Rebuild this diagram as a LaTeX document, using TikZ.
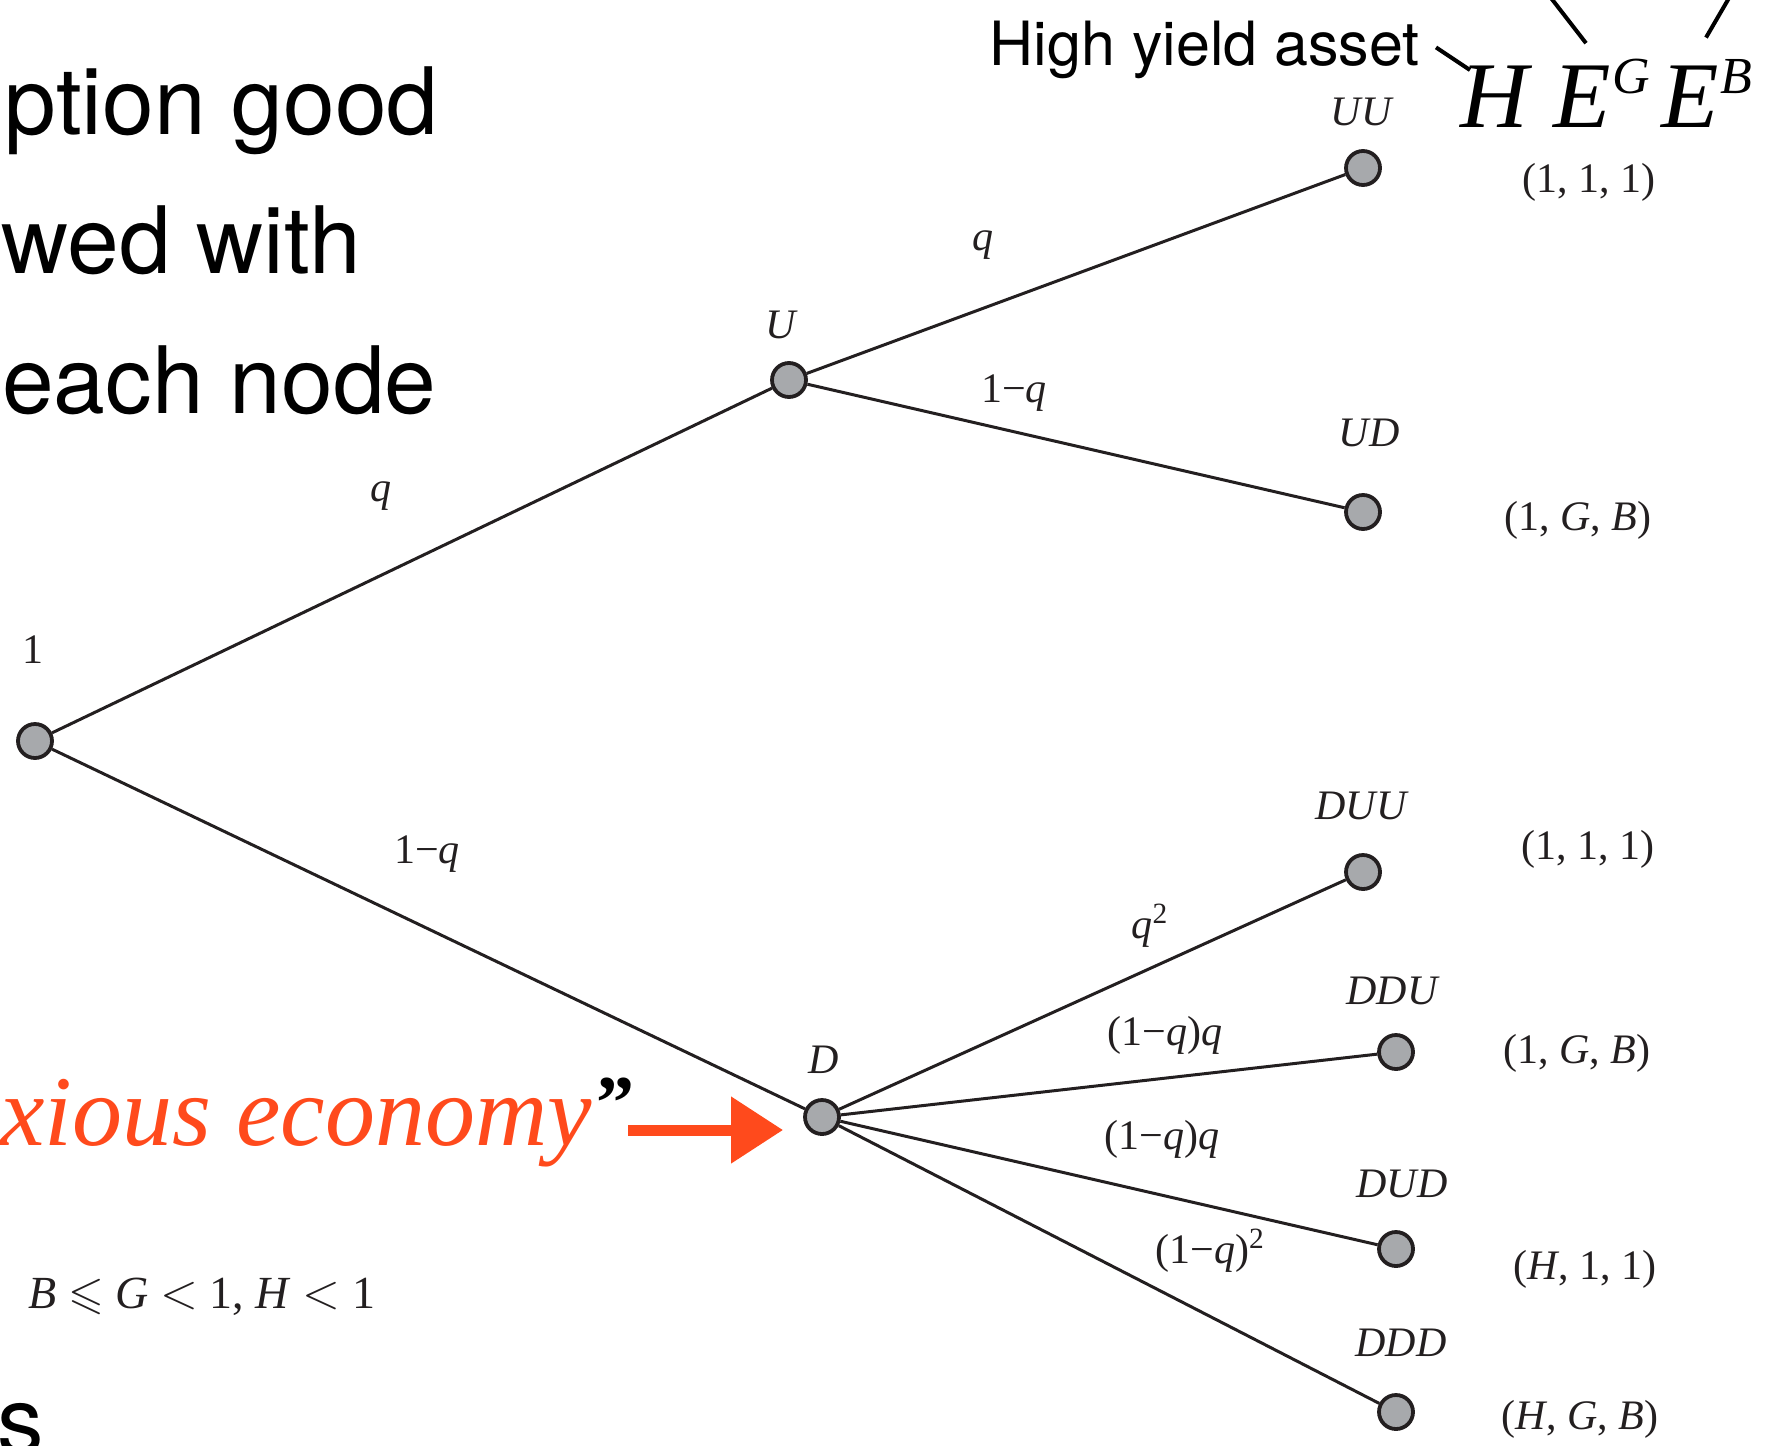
\documentclass[tikz,border=0pt]{standalone}
\usepackage{amssymb}
\usepackage{fontspec}
\setmainfont{Liberation Serif}
\newfontfamily\helv{TeX Gyre Heros}
\usetikzlibrary{arrows.meta,calc}

\definecolor{ink}{HTML}{231F20}
\definecolor{nodegray}{HTML}{A7A9AC}
\definecolor{anxred}{HTML}{FF4A1C}

\begin{document}
\begin{tikzpicture}[
  x=0.5pt, y=-0.5pt,
  st/.style={circle, draw=ink, fill=nodegray, line width=1.9pt,
             minimum size=17pt, inner sep=0pt},
  br/.style={draw=ink, line width=1.5pt},
  nm/.style={font=\fontsize{21}{21}\selectfont\itshape, text=ink, inner sep=0pt},
  pr/.style={font=\fontsize{21}{21}\selectfont, text=ink, inner sep=0pt},
  slide/.style={font=\helv\fontsize{46.5}{50}\selectfont, anchor=base east, inner sep=0pt},
  big/.style={font=\fontsize{47}{47}\selectfont\itshape, anchor=base west, inner sep=0pt},
  ptr/.style={draw=black, line width=2pt},
  redarr/.style={-{Triangle[length=26pt,width=32pt]}, draw=anxred, line width=5.5pt}
]
\useasboundingbox (0,0) rectangle (1780,1445);
\clip (0,0) rectangle (1780,1445);

\node[slide] (l1) at (439,134) {ption good};
\node[slide] (l2) at (362,273) {wed with};
\node[slide] (l3) at (437,413) {each node};
\node[slide, anchor=base west] (l4) at (-3,1453) {s};

\node[font=\fontsize{50}{50}\selectfont\itshape, text=anxred, anchor=base east,
      inner sep=0pt] (anx) at (592,1145) {nxious economy};
\node[font=\fontsize{38}{38}\selectfont\bfseries, anchor=base west, inner sep=0pt]
  (qt) at (596,1128) {”};
\coordinate (arrS) at (628,1130);

\node[font=\helv\fontsize{30.5}{30.5}\selectfont, anchor=base east, inner sep=0pt]
  (hya) at (1420,66) {High yield asset};
\node[big] (H) at (1460,127) {H};
\node[big] (EG) at (1553,127) {E\kern1pt\raisebox{17pt}{\fontsize{26}{26}\selectfont G}};
\node[big] (EB) at (1661,127) {E\kern1pt\raisebox{17pt}{\fontsize{26}{26}\selectfont B}};
\coordinate (egA) at (1551,-2);
\coordinate (ebA) at (1729,-2);

\draw[ptr] ([xshift=8pt,yshift=1.5pt]hya.east) -- ($(H.north west)+(10,5)$);
\draw[ptr] (egA) -- ($(EG.north west)+(33,-15)$);
\draw[ptr] (ebA) -- ($(EB.north west)+(45,-21)$);

\node[st] (root) at (35,741) {};
\node[st] (U) at (789,380) {};
\node[st] (D) at (822,1117) {};
\node[st] (UU) at (1363,168) {};
\node[st] (UD) at (1363,512) {};
\node[st] (DUU) at (1363,872) {};
\node[st] (DDU) at (1396,1052) {};
\node[st] (DUD) at (1396,1249) {};
\node[st] (DDD) at (1396,1412) {};

\draw[br] (root) -- (U);
\draw[br] (root) -- (D);
\draw[br] (U) -- (UU);
\draw[br] (U) -- (UD);
\draw[br] (D) -- (DUU);
\draw[br] (D) -- (DDU);
\draw[br] (D) -- (DUD);
\draw[br] (D) -- (DDD);

\draw[redarr, shorten >=10pt] (arrS) -- (D.west |- arrS);

\node[pr] (n1) at (33,650) {1};
\node[nm] (nU) at (781,325) {U};
\node[nm] (nD) at (824,1060) {D};
\node[nm] (nUU) at (1361,112) {UU};
\node[nm] (nUD) at (1369,433) {UD};
\node[nm] (nDUU) at (1361,806) {DUU};
\node[nm] (nDDU) at (1392,991) {DDU};
\node[nm] (nDUD) at (1402,1184) {DUD};
\node[nm] (nDDD) at (1401,1343) {DDD};

\node[pr] (pq) at (381,496) {\textit{q}};
\node[pr] (p1q) at (427,854) {1−\textit{q}};
\node[pr] (pUq) at (983,245) {\textit{q}};
\node[pr] (pU1q) at (1014,393) {1−\textit{q}};
\node[pr] (pDa) at (1150,926) {\textit{q}\textsuperscript{2}};
\node[pr] (pDb) at (1165,1035) {(1−\textit{q})\textit{q}};
\node[pr] (pDc) at (1162,1139) {(1−\textit{q})\textit{q}};
\node[pr] (pDd) at (1210,1251) {(1−\textit{q})\textsuperscript{2}};

\node[pr] (yUU) at (1589,182) {(1, 1, 1)};
\node[pr] (yUD) at (1578,520) {(1, \textit{G}, \textit{B})};
\node[pr] (yDUU) at (1588,849) {(1, 1, 1)};
\node[pr] (yDDU) at (1577,1053) {(1, \textit{G}, \textit{B})};
\node[pr] (yDUD) at (1585,1269) {(\textit{H}, 1, 1)};
\node[pr] (yDDD) at (1580,1419) {(\textit{H}, \textit{G}, \textit{B})};

\node[pr, font=\fontsize{23}{23}\selectfont] (cond) at (202,1297)
  {\textit{B} $\leqslant$ \textit{G} $<$ 1, \textit{H} $<$ 1};
\end{tikzpicture}
\end{document}
